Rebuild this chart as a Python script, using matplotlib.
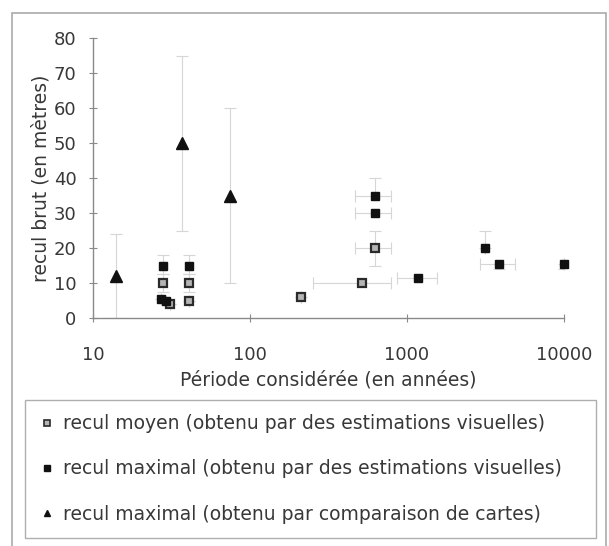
import matplotlib
matplotlib.use("Agg")
import matplotlib.pyplot as plt
from matplotlib.lines import Line2D
from matplotlib.patches import Rectangle
from matplotlib.ticker import FixedLocator, NullLocator, FixedFormatter

plt.rcParams['font.family'] = ['DejaVu Sans']

# recul moyen (estimations visuelles)
moy_x = [28, 41, 41, 31, 210, 520, 630]
moy_y = [10, 10, 5, 4, 6, 10, 20]
moy_xlo = [0, 0, 0, 0, 0, 269, 164]
moy_xhi = [0, 0, 0, 0, 0, 274, 164]
moy_yerr = [2.5, 2.5, 0, 0, 0, 0, 5]

# recul maximal (estimations visuelles)
max_x = [28, 41, 27, 29, 630, 630, 1180, 3150, 3850, 10000]
max_y = [15, 15, 5.5, 5, 35, 30, 11.5, 20, 15.5, 15.5]
max_xlo = [0, 0, 0, 0, 164, 164, 317, 0, 933, 0]
max_xhi = [0, 0, 0, 0, 164, 164, 370, 0, 1025, 0]
max_ylo = [2.5, 2.5, 0, 0, 0, 0, 0, 0, 1.5, 1.5]
max_yhi = [3, 3, 0, 0, 5, 0, 0, 5, 0, 0]

# recul maximal (comparaison de cartes)
tri_x = [14, 37, 75]
tri_y = [12, 50, 35]
tri_yerr = [12, 25, 25]

labels = ["recul moyen (obtenu par des estimations visuelles)",
          "recul maximal (obtenu par des estimations visuelles)",
          "recul maximal (obtenu par comparaison de cartes)"]

W, H = 609, 546
fig = plt.figure(figsize=(W / 100, H / 100), dpi=100)
ax = fig.add_axes([93 / W, 1 - 318 / H, (564 - 93) / W, (318 - 38) / H])

ecol = '#d6d6d6'
ekw = dict(fmt='none', ecolor=ecol, elinewidth=0.8, capsize=4, capthick=0.8, zorder=1)
ax.errorbar(moy_x, moy_y, xerr=[moy_xlo, moy_xhi], yerr=moy_yerr, **ekw)
ax.errorbar(max_x, max_y, xerr=[max_xlo, max_xhi], yerr=[max_ylo, max_yhi], **ekw)
ax.errorbar(tri_x, tri_y, yerr=tri_yerr, **ekw)

ax.plot(moy_x, moy_y, 's', ms=6, mfc='#b4b4b4', mec='#2a2a2a', mew=1.6, zorder=3)
ax.plot(max_x, max_y, 's', ms=6.3, mfc='#111111', mec='#111111', zorder=3, clip_on=False)
ax.plot(tri_x, tri_y, '^', ms=8, mfc='#111111', mec='#111111', zorder=3)

ax.set_xscale('log')
ax.set_xlim(10, 10000)
ax.set_ylim(0, 80)
ax.xaxis.set_major_locator(FixedLocator([10, 100, 1000, 10000]))
ax.xaxis.set_major_formatter(FixedFormatter(['10', '100', '1000', '10000']))
ax.xaxis.set_minor_locator(NullLocator())
ax.set_yticks(range(0, 81, 10))

for s in ['top', 'right']:
    ax.spines[s].set_visible(False)
for s in ['left', 'bottom']:
    ax.spines[s].set_color('#8a8a8a')
    ax.spines[s].set_linewidth(1.0)
ax.tick_params(direction='inout', length=6, width=0.8, color='#8a8a8a',
               labelsize=13, labelcolor='#383838')
ax.tick_params(axis='x', pad=17)
ax.tick_params(axis='y', pad=9)

ax.set_xlabel("Période considérée (en années)", fontsize=13.5, color='#383838', labelpad=5)
ax.set_ylabel("recul brut (en mètres)", fontsize=13.5, color='#383838', labelpad=2)

handles = [
    Line2D([], [], ls='none', marker='s', ms=4.5, mfc='#b4b4b4', mec='#2a2a2a', mew=1.2),
    Line2D([], [], ls='none', marker='s', ms=4.5, mfc='#111111', mec='#111111'),
    Line2D([], [], ls='none', marker='^', ms=5, mfc='#111111', mec='#111111'),
]
leg = fig.legend(handles, labels, loc='upper left',
                 bbox_to_anchor=(25 / W, 1 - 400 / H, (596 - 25) / W, 0.0),
                 mode='expand', borderaxespad=0, fontsize=13.5, labelspacing=1.4,
                 handlelength=0.8, handletextpad=0.48, borderpad=0.75,
                 fancybox=False, frameon=True, labelcolor='#383838')
leg.get_frame().set_edgecolor('#9a9a9a')
leg.get_frame().set_linewidth(1.0)

fig.patches.append(Rectangle((12 / W, -0.01), (606 - 12) / W, 1.01 - 13 / H,
                             transform=fig.transFigure, fill=False,
                             edgecolor='#aaaaaa', lw=1.2))

fig.savefig("out.png", dpi=100)
